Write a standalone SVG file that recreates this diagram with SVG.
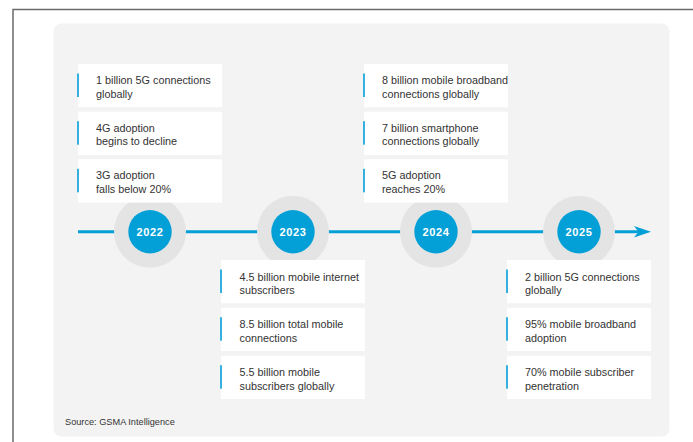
<svg xmlns="http://www.w3.org/2000/svg" width="693" height="442" viewBox="0 0 693 442">
<defs>
<style>
.frame{fill:none;stroke:#6b6b6b;stroke-width:1.5}
.panel{fill:#f3f3f3}
.box{fill:#ffffff}
.bar{fill:#36b1df}
.t{font-family:"Liberation Sans",Arial,sans-serif;font-size:10.8px;fill:#333333}
.halo{fill:#e4e4e4}
.dot{fill:#03a0d7}
.yr{font-family:"Liberation Sans",Arial,sans-serif;font-size:11px;font-weight:bold;fill:#ffffff;text-anchor:middle;letter-spacing:0.6px}
.src{font-family:"Liberation Sans",Arial,sans-serif;font-size:9.2px;fill:#333333}
</style>
</defs>
<rect width="693" height="442" fill="#ffffff"/>
<path class="frame" d="M13,442 V9.5 H693"/>
<rect class="panel" x="53.5" y="23.5" width="616" height="413" rx="8"/>

<g id="connectors">
<line x1="78" y1="231.7" x2="640" y2="231.7" stroke="#03a0d7" stroke-width="3"/>
<polygon points="651,231.7 634,226 638.5,231.7 634,237.5" fill="#03a0d7"/>
</g>

<g id="node-2022">
<circle class="halo" cx="150" cy="231.7" r="36"/>
<circle class="dot" cx="150" cy="231.7" r="21.7"/>
<text class="yr" x="150" y="235.7">2022</text>
</g>
<g id="node-2023">
<circle class="halo" cx="293" cy="231.7" r="36"/>
<circle class="dot" cx="293" cy="231.7" r="21.7"/>
<text class="yr" x="293" y="235.7">2023</text>
</g>
<g id="node-2024">
<circle class="halo" cx="436" cy="231.7" r="36"/>
<circle class="dot" cx="436" cy="231.7" r="21.7"/>
<text class="yr" x="436" y="235.7">2024</text>
</g>
<g id="node-2025">
<circle class="halo" cx="579" cy="231.7" r="36"/>
<circle class="dot" cx="579" cy="231.7" r="21.7"/>
<text class="yr" x="579" y="235.7">2025</text>
</g>

<g id="box-2022-1">
<rect class="box" x="78" y="64" width="144" height="43.3"/>
<rect class="bar" x="77" y="73.5" width="2" height="23.5"/>
<text class="t" x="96" y="84">1 billion 5G connections</text>
<text class="t" x="96" y="97.5">globally</text>
</g>
<g id="box-2022-2">
<rect class="box" x="78" y="111.7" width="144" height="43.3"/>
<rect class="bar" x="77" y="121.2" width="2" height="23.5"/>
<text class="t" x="96" y="131.7">4G adoption</text>
<text class="t" x="96" y="145.2">begins to decline</text>
</g>
<g id="box-2022-3">
<rect class="box" x="78" y="159.3" width="144" height="43.3"/>
<rect class="bar" x="77" y="168.8" width="2" height="23.5"/>
<text class="t" x="96" y="179.3">3G adoption</text>
<text class="t" x="96" y="192.8">falls below 20%</text>
</g>

<g id="box-2023-1">
<rect class="box" x="221" y="260" width="144" height="43.3"/>
<rect class="bar" x="220" y="269.5" width="2" height="23.5"/>
<text class="t" x="239.5" y="280.5">4.5 billion mobile internet</text>
<text class="t" x="239.5" y="294">subscribers</text>
</g>
<g id="box-2023-2">
<rect class="box" x="221" y="307.7" width="144" height="43.3"/>
<rect class="bar" x="220" y="317.2" width="2" height="23.5"/>
<text class="t" x="239.5" y="328.2">8.5 billion total mobile</text>
<text class="t" x="239.5" y="341.7">connections</text>
</g>
<g id="box-2023-3">
<rect class="box" x="221" y="355.7" width="144" height="43.3"/>
<rect class="bar" x="220" y="365.2" width="2" height="23.5"/>
<text class="t" x="239.5" y="376.2">5.5 billion mobile</text>
<text class="t" x="239.5" y="389.7">subscribers globally</text>
</g>

<g id="box-2024-1">
<rect class="box" x="364" y="64" width="144" height="43.3"/>
<rect class="bar" x="363" y="73.5" width="2" height="23.5"/>
<text class="t" x="382" y="84">8 billion mobile broadband</text>
<text class="t" x="382" y="97.5">connections globally</text>
</g>
<g id="box-2024-2">
<rect class="box" x="364" y="111.7" width="144" height="43.3"/>
<rect class="bar" x="363" y="121.2" width="2" height="23.5"/>
<text class="t" x="382" y="131.7">7 billion smartphone</text>
<text class="t" x="382" y="145.2">connections globally</text>
</g>
<g id="box-2024-3">
<rect class="box" x="364" y="159.3" width="144" height="43.3"/>
<rect class="bar" x="363" y="168.8" width="2" height="23.5"/>
<text class="t" x="382" y="179.3">5G adoption</text>
<text class="t" x="382" y="192.8">reaches 20%</text>
</g>

<g id="box-2025-1">
<rect class="box" x="507" y="260" width="144" height="43.3"/>
<rect class="bar" x="506" y="269.5" width="2" height="23.5"/>
<text class="t" x="525" y="280.5">2 billion 5G connections</text>
<text class="t" x="525" y="294">globally</text>
</g>
<g id="box-2025-2">
<rect class="box" x="507" y="307.7" width="144" height="43.3"/>
<rect class="bar" x="506" y="317.2" width="2" height="23.5"/>
<text class="t" x="525" y="328.2">95% mobile broadband</text>
<text class="t" x="525" y="341.7">adoption</text>
</g>
<g id="box-2025-3">
<rect class="box" x="507" y="355.7" width="144" height="43.3"/>
<rect class="bar" x="506" y="365.2" width="2" height="23.5"/>
<text class="t" x="525" y="376.2">70% mobile subscriber</text>
<text class="t" x="525" y="389.7">penetration</text>
</g>

<text class="src" x="65" y="425">Source: GSMA Intelligence</text>
</svg>
